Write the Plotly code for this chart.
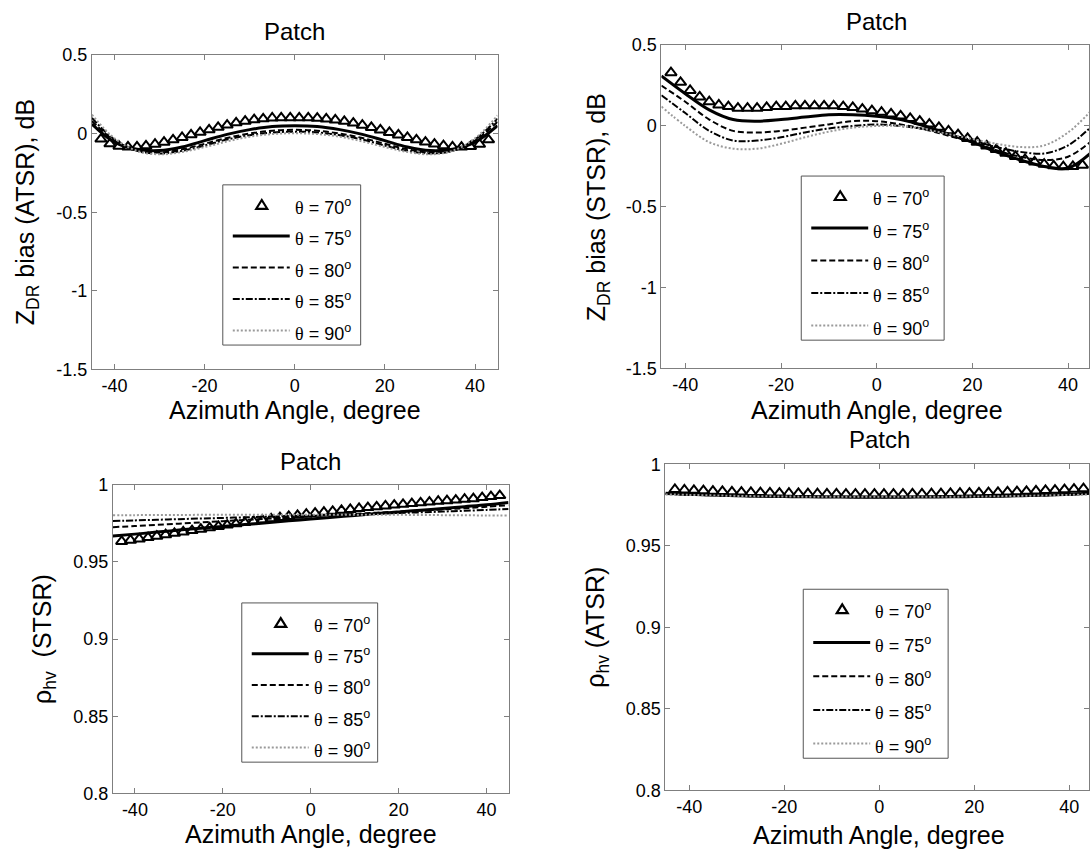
import plotly.graph_objects as go

# ---------------------------------------------------------------- data
# azimuth grids (degrees)
AZ_LINE = [-45, -40, -35, -30, -25, -20, -15, -10, -5, 0, 5, 10, 15, 20, 25, 30, 35, 40, 45]
AZ_MARK = [-43, -41, -39, -37, -35, -33, -31, -29, -27, -25, -23, -21, -19, -17, -15, -13, -11, -9, -7, -5, -3, -1,
           1, 3, 5, 7, 9, 11, 13, 15, 17, 19, 21, 23, 25, 27, 29, 31, 33, 35, 37, 39, 41, 43]

THETA_LABELS = ["70", "75", "80", "85", "90"]

# Z_DR bias, ATSR (dB)
ZDR_ATSR_70 = [-0.035, -0.065, -0.08, -0.085, -0.085, -0.078, -0.068, -0.055, -0.04, -0.025, -0.008, 0.008, 0.024,
               0.04, 0.054, 0.068, 0.079, 0.088, 0.094, 0.099, 0.1, 0.1,
               0.1, 0.1, 0.098, 0.093, 0.087, 0.078, 0.067, 0.053, 0.039, 0.023, 0.007, -0.009, -0.025, -0.04,
               -0.054, -0.067, -0.077, -0.084, -0.086, -0.083, -0.068, -0.04]
ZDR_ATSR_75 = [0.06, -0.055, -0.1, -0.108, -0.085, -0.045, -0.005, 0.025, 0.045, 0.05, 0.045, 0.025, -0.005, -0.045,
               -0.085, -0.108, -0.1, -0.055, 0.05]
ZDR_ATSR_80 = [0.08, -0.045, -0.108, -0.12, -0.1, -0.065, -0.028, 0.0, 0.018, 0.024, 0.018, 0.0, -0.028, -0.065,
               -0.1, -0.12, -0.108, -0.045, 0.075]
ZDR_ATSR_85 = [0.1, -0.038, -0.11, -0.126, -0.11, -0.076, -0.038, -0.01, 0.007, 0.012, 0.007, -0.01, -0.038, -0.076,
               -0.11, -0.126, -0.11, -0.038, 0.095]
ZDR_ATSR_90 = [0.12, -0.03, -0.11, -0.132, -0.117, -0.086, -0.05, -0.02, -0.003, 0.002, -0.003, -0.02, -0.05, -0.086,
               -0.117, -0.132, -0.11, -0.03, 0.115]

# Z_DR bias, STSR (dB)
ZDR_STSR_70 = [0.33, 0.27, 0.22, 0.18, 0.15, 0.13, 0.12, 0.11, 0.11, 0.11, 0.115, 0.12, 0.12, 0.125, 0.125, 0.125,
               0.125, 0.125, 0.12, 0.115, 0.105, 0.095,
               0.085, 0.075, 0.062, 0.047, 0.03, 0.012, -0.008, -0.03, -0.053, -0.077, -0.1, -0.123, -0.146, -0.168,
               -0.188, -0.207, -0.222, -0.236, -0.246, -0.252, -0.25, -0.242]
ZDR_STSR_75 = [0.31, 0.2, 0.1, 0.04, 0.03, 0.04, 0.055, 0.07, 0.07, 0.06, 0.04, 0.0, -0.05, -0.1, -0.16, -0.21, -0.25,
               -0.26, -0.16]
ZDR_STSR_80 = [0.25, 0.15, 0.04, -0.03, -0.04, -0.03, -0.01, 0.01, 0.03, 0.03, 0.01, -0.02, -0.06, -0.1, -0.15, -0.19,
               -0.21, -0.19, -0.09]
ZDR_STSR_85 = [0.19, 0.08, -0.03, -0.09, -0.09, -0.07, -0.04, -0.015, 0.0, 0.01, 0.0, -0.02, -0.05, -0.09, -0.13,
               -0.16, -0.17, -0.12, 0.0]
ZDR_STSR_90 = [0.12, 0.0, -0.1, -0.14, -0.14, -0.11, -0.07, -0.035, -0.01, 0.0, 0.0, -0.02, -0.05, -0.08, -0.11,
               -0.13, -0.12, -0.04, 0.1]

# rho_hv, STSR
RHO_STSR_70 = [0.9633, 0.9641, 0.9649, 0.9658, 0.9667, 0.9676, 0.9685, 0.9694, 0.9703, 0.9712, 0.9721, 0.973, 0.9739,
               0.9747, 0.9755, 0.9763, 0.9771, 0.9779, 0.9787, 0.9795, 0.9802, 0.9809,
               0.9816, 0.9822, 0.9828, 0.9834, 0.984, 0.9846, 0.9852, 0.9857, 0.9863, 0.9868, 0.9873, 0.9878, 0.9883,
               0.9888, 0.9893, 0.9897, 0.9901, 0.9906, 0.991, 0.9917, 0.9923, 0.993]
RHO_STSR_75 = [0.9668, 0.968, 0.9693, 0.9706, 0.9718, 0.973, 0.9742, 0.9754, 0.9766, 0.9778, 0.979, 0.9801, 0.9813,
               0.9824, 0.9835, 0.9846, 0.9858, 0.987, 0.9885]
RHO_STSR_80 = [0.9725, 0.9732, 0.974, 0.9748, 0.9756, 0.9764, 0.9772, 0.978, 0.9788, 0.9796, 0.9804, 0.9811, 0.9819,
               0.9826, 0.9833, 0.984, 0.9848, 0.9857, 0.9868]
RHO_STSR_85 = [0.9765, 0.9769, 0.9773, 0.9777, 0.9781, 0.9785, 0.9789, 0.9793, 0.9797, 0.9801, 0.9805, 0.9809, 0.9813,
               0.9817, 0.9821, 0.9826, 0.9831, 0.9837, 0.9843]
RHO_STSR_90 = [0.9803, 0.9803, 0.9804, 0.9804, 0.9805, 0.9805, 0.9806, 0.9806, 0.9806, 0.9806, 0.9806, 0.9806, 0.9805,
               0.9805, 0.9804, 0.9803, 0.9802, 0.9801, 0.98]

# rho_hv, ATSR
RHO_ATSR_70 = [0.9845, 0.9842, 0.984, 0.9838, 0.9835, 0.9833, 0.9831, 0.9829, 0.9827, 0.9826, 0.9824, 0.9823, 0.9822,
               0.9821, 0.982, 0.9819, 0.9818, 0.9818, 0.9817, 0.9817, 0.9817, 0.9817,
               0.9817, 0.9817, 0.9817, 0.9818, 0.9818, 0.9819, 0.982, 0.9821, 0.9822, 0.9823, 0.9825, 0.9826, 0.9828,
               0.983, 0.9832, 0.9834, 0.9836, 0.9839, 0.9841, 0.9844, 0.9847, 0.985]
RHO_ATSR_75 = [0.9822, 0.9816, 0.9811, 0.9807, 0.9804, 0.9802, 0.98, 0.9799, 0.9798, 0.9798, 0.9798, 0.9799, 0.98,
               0.9802, 0.9804, 0.9807, 0.9811, 0.9816, 0.9824]
RHO_ATSR_80 = [0.9819, 0.9814, 0.981, 0.9806, 0.9803, 0.9801, 0.98, 0.9799, 0.9798, 0.9798, 0.9798, 0.9799, 0.98,
               0.9801, 0.9803, 0.9806, 0.981, 0.9814, 0.9821]
RHO_ATSR_85 = [0.9817, 0.9813, 0.9809, 0.9806, 0.9803, 0.9801, 0.98, 0.9799, 0.9799, 0.9799, 0.9799, 0.9799, 0.98,
               0.9801, 0.9803, 0.9806, 0.9809, 0.9813, 0.9818]
RHO_ATSR_90 = [0.9815, 0.9812, 0.9809, 0.9806, 0.9804, 0.9802, 0.9801, 0.98, 0.98, 0.98, 0.98, 0.98, 0.9801, 0.9802,
               0.9804, 0.9806, 0.9809, 0.9812, 0.9815]

X_TICKS = [-40, -20, 0, 20, 40]
X_TICKTEXT = ["-40", "-20", "0", "20", "40"]
ZDR_TICKS = [-1.5, -1, -0.5, 0, 0.5]
ZDR_TICKTEXT = ["-1.5", "-1", "-0.5", "0", "0.5"]
RHO_TICKS = [0.8, 0.85, 0.9, 0.95, 1]
RHO_TICKTEXT = ["0.8", "0.85", "0.9", "0.95", "1"]

# ---------------------------------------------------------------- layout helpers
W, H = 1090, 863
FONT = "Liberation Sans"
AXIS_GREY = "#7f7f7f"
AZ_MIN, AZ_MAX = -45, 45


def px_x(x):
    return x / W


def px_y(y):
    return 1 - y / H


# panel boxes in pixels: (left, right, top, bottom); right panels run past the page edge
PANELS = [
    dict(box=(92, 498, 46, 368), yr=[-1.5, 0.5], yt=(ZDR_TICKS, ZDR_TICKTEXT),
         series=[ZDR_ATSR_70, ZDR_ATSR_75, ZDR_ATSR_80, ZDR_ATSR_85, ZDR_ATSR_90],
         title_y=22, xlab_y=409, ylab_x=27, ylab="Z<sub>DR</sub> bias (ATSR), dB",
         legend_box=(223, 361, 179, 343)),
    dict(box=(662, 1093, 36, 367), yr=[-1.5, 0.5], yt=(ZDR_TICKS, ZDR_TICKTEXT),
         series=[ZDR_STSR_70, ZDR_STSR_75, ZDR_STSR_80, ZDR_STSR_85, ZDR_STSR_90],
         title_y=12, xlab_y=409, ylab_x=598, ylab="Z<sub>DR</sub> bias (STSR), dB",
         legend_box=(802, 945, 170, 338)),
    dict(box=(113, 509, 486, 802), yr=[0.8, 1.0], yt=(RHO_TICKS, RHO_TICKTEXT),
         series=[RHO_STSR_70, RHO_STSR_75, RHO_STSR_80, RHO_STSR_85, RHO_STSR_90],
         title_y=462, xlab_y=844, ylab_x=44, ylab="ρ<sub>hv</sub>\u00a0\u00a0(STSR)",
         legend_box=(242, 378, 607, 770)),
    dict(box=(666, 1094, 465, 799), yr=[0.8, 1.0], yt=(RHO_TICKS, RHO_TICKTEXT),
         series=[RHO_ATSR_70, RHO_ATSR_75, RHO_ATSR_80, RHO_ATSR_85, RHO_ATSR_90],
         title_y=440, xlab_y=845, ylab_x=598, ylab="ρ<sub>hv</sub> (ATSR)",
         legend_box=(804, 949, 593, 766)),
]

LINE_STYLES = [
    dict(color="black", width=3, dash="solid"),
    dict(color="black", width=2, dash="6px,3px"),
    dict(color="black", width=2, dash="7px,2px,2px,2px"),
    dict(color="#9a9a9a", width=2, dash="2px,2px"),
]
MARKER = dict(symbol="triangle-up-open", size=10, color="black", line=dict(width=2, color="black"))

fig = go.Figure()
annotations = []
shapes = []
layout_extra = {}

for i, p in enumerate(PANELS):
    n = "" if i == 0 else str(i + 1)
    xa, ya = "x" + n, "y" + n
    left, right, top, bottom = p["box"]

    # theta = 70 deg: open triangles
    fig.add_trace(go.Scatter(
        x=AZ_MARK, y=p["series"][0], mode="markers", xaxis=xa, yaxis=ya,
        name="θ = 70°", showlegend=False, marker=MARKER,
    ))
    # theta = 75..90 deg: smooth lines
    for k in range(1, 5):
        fig.add_trace(go.Scatter(
            x=AZ_LINE, y=p["series"][k], mode="lines", xaxis=xa, yaxis=ya,
            name=f"θ = {THETA_LABELS[k]}°", showlegend=False,
            line=dict(shape="spline", smoothing=1.0, **LINE_STYLES[k - 1]),
        ))

    # axes: the visible part of a panel ends at the page edge
    ppd = (right - left) / (AZ_MAX - AZ_MIN)
    vis_right = min(right, W)
    x_hi = AZ_MAX - (right - vis_right) / ppd

    axis_common = dict(
        showline=True, linecolor=AXIS_GREY, linewidth=1, mirror="ticks",
        ticks="inside", ticklen=5, tickcolor=AXIS_GREY, showgrid=False, zeroline=False,
        tickfont=dict(family=FONT, size=18, color="black"),
    )
    layout_extra["xaxis" + n] = dict(
        domain=[px_x(left), px_x(vis_right)], range=[AZ_MIN, x_hi], anchor=ya,
        tickvals=X_TICKS, ticktext=X_TICKTEXT, **axis_common)
    layout_extra["yaxis" + n] = dict(
        domain=[px_y(bottom), px_y(top)], range=p["yr"], anchor=xa,
        tickvals=p["yt"][0], ticktext=p["yt"][1], **axis_common)

    # titles and axis labels
    xc = px_x((left + right) / 2)
    annotations.append(dict(text="Patch", x=xc, y=px_y(p["title_y"]), xref="paper", yref="paper",
                            showarrow=False, font=dict(family=FONT, size=24, color="black"),
                            xanchor="center", yanchor="middle"))
    annotations.append(dict(text="Azimuth Angle, degree", x=xc, y=px_y(p["xlab_y"]), xref="paper",
                            yref="paper", showarrow=False, font=dict(family=FONT, size=25, color="black"),
                            xanchor="center", yanchor="middle"))
    annotations.append(dict(text=p["ylab"], x=px_x(p["ylab_x"]), y=px_y((top + bottom) / 2),
                            xref="paper", yref="paper", showarrow=False, textangle=-90,
                            font=dict(family=FONT, size=25, color="black"),
                            xanchor="center", yanchor="middle"))

    # legend box drawn inside the panel
    bl, br, bt, bb = p["legend_box"]
    shapes.append(dict(type="rect", xref="paper", yref="paper", layer="above",
                       x0=px_x(bl), x1=px_x(br), y0=px_y(bb), y1=px_y(bt),
                       line=dict(color="#555555", width=1), fillcolor="white"))
    row_gap = (bb - bt - 35) / 4
    for k in range(5):
        ry = bt + 20 + k * row_gap
        if k == 0:
            cx, half_w, half_h = bl + 39, 5.5, 4.5
            path = (f"M{px_x(cx - half_w)},{px_y(ry + half_h)} L{px_x(cx + half_w)},{px_y(ry + half_h)} "
                    f"L{px_x(cx)},{px_y(ry - half_h)} Z")
            shapes.append(dict(type="path", xref="paper", yref="paper", layer="above", path=path,
                               line=dict(color="black", width=2.2), fillcolor="rgba(0,0,0,0)"))
        else:
            st = LINE_STYLES[k - 1]
            shapes.append(dict(type="line", xref="paper", yref="paper", layer="above",
                               x0=px_x(bl + 10), x1=px_x(bl + 67), y0=px_y(ry), y1=px_y(ry),
                               line=dict(color=st["color"], width=st["width"], dash=st["dash"])))
        annotations.append(dict(
            text=f"<span style='font-family:Liberation Serif'>θ</span> = {THETA_LABELS[k]}<sup>o</sup>",
            x=px_x(bl + 70), y=px_y(ry + 2), xref="paper", yref="paper", showarrow=False,
            xanchor="left", yanchor="middle", font=dict(family=FONT, size=18, color="black")))

fig.update_layout(
    width=W, height=H, autosize=False,
    margin=dict(l=0, r=0, t=0, b=0),
    paper_bgcolor="white", plot_bgcolor="white",
    showlegend=False, annotations=annotations, shapes=shapes,
    **layout_extra,
)

fig.write_html("out.html", config={"displayModeBar": False})
